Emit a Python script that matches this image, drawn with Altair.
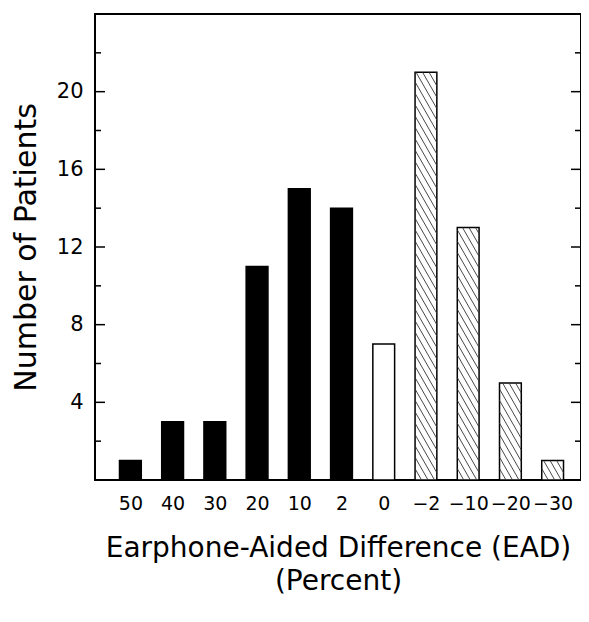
import altair as alt
import pandas as pd

# ---- data ----
labels = ["50", "40", "30", "20", "10", "2", "0", "\u22122", "\u221210", "\u221220", "\u221230"]
counts = [1, 3, 3, 11, 15, 14, 7, 21, 13, 5, 1]
groups = ["solid"] * 6 + ["open"] + ["hatched"] * 4
major_ticks = [4, 8, 12, 16, 20]
minor_ticks = [2, 6, 10, 14, 18, 22]

# ---- layout ----
W, H = 486, 466
X_DOM = [-0.838, 10.672]
Y_DOM = [0, 24]
HALF = 0.258  # half bar width in x-units

idx = list(range(len(labels)))
bars = pd.DataFrame({
    "i": idx,
    "lo": [i - HALF for i in idx],
    "hi": [i + HALF for i in idx],
    "label": labels,
    "count": counts,
    "group": groups,
})

def to_px_x(v):
    return (v - X_DOM[0]) / (X_DOM[1] - X_DOM[0]) * W

def to_px_y(v):
    return H - (v - Y_DOM[0]) / (Y_DOM[1] - Y_DOM[0]) * H

def from_px_x(p):
    return X_DOM[0] + p / W * (X_DOM[1] - X_DOM[0])

def from_px_y(p):
    return Y_DOM[0] + (H - p) / H * (Y_DOM[1] - Y_DOM[0])

# hatch lines (decoration) inside each hatched bar, clipped to the bar
K = 1.75       # pixel slope (down-right)
SPACING = 6.5  # horizontal pixel spacing of hatch lines
rows = []
for i, c, g in zip(idx, counts, groups):
    if g != "hatched":
        continue
    L, R = to_px_x(i - HALF), to_px_x(i + HALF)
    T, B = to_px_y(c), to_px_y(0)
    x0 = L - (B - T) / K - SPACING
    while x0 < R:
        xa = max(L, x0)
        xb = min(R, x0 + (B - T) / K)
        if xb > xa + 0.3:
            ya = T + K * (xa - x0)
            yb = T + K * (xb - x0)
            rows.append({"x": from_px_x(xa), "x2": from_px_x(xb),
                         "y": from_px_y(ya), "y2": from_px_y(yb)})
        x0 += SPACING
hatch = pd.DataFrame(rows)

FONT = "DejaVu Sans"
label_expr = "[" + ",".join("'" + l + "'" for l in labels) + "][datum.value]"

xscale = alt.Scale(domain=X_DOM, nice=False, zero=False)
yscale = alt.Scale(domain=Y_DOM, nice=False)

x_axis = alt.Axis(
    values=idx, labelExpr=label_expr, ticks=False, tickSize=0, domain=False, grid=False,
    labelFont=FONT, labelFontSize=19, labelColor="black", labelPadding=14,
    title=["Earphone-Aided Difference (EAD)", "(Percent)"],
    titleFont=FONT, titleFontSize=28, titleFontWeight="normal", titleColor="black",
    titleLineHeight=33, titleX=W / 2, titleY=76, titleBaseline="alphabetic", titleAlign="center",
    labelOverlap=False, labelFlush=False,
)
y_axis = alt.Axis(
    values=major_ticks, ticks=False, tickSize=0, domain=False, grid=False,
    labelFont=FONT, labelFontSize=21, labelColor="black", labelPadding=12,
    title="Number of Patients", titleFont=FONT, titleFontSize=30, titleFontWeight="normal",
    titleColor="black", titleX=-69, titleY=H / 2, titleAngle=270,
    titleBaseline="middle", titleAlign="center",
)

base = alt.Chart(bars)
bar_layer = base.mark_bar(stroke="black", strokeWidth=1.5).encode(
    x=alt.X("lo:Q", scale=xscale, axis=x_axis),
    x2="hi:Q",
    y=alt.Y("count:Q", scale=yscale, axis=y_axis),
    y2=alt.datum(0),
    fill=alt.Fill("group:N", scale=alt.Scale(domain=["solid", "open", "hatched"],
                                              range=["black", "white", "white"]), legend=None),
)

hatch_layer = alt.Chart(hatch).mark_rule(color="#333333", strokeWidth=0.9).encode(
    x=alt.X("x:Q", scale=xscale), x2="x2:Q",
    y=alt.Y("y:Q", scale=yscale), y2="y2:Q",
)

maj = pd.DataFrame({"v": major_ticks})
mino = pd.DataFrame({"v": minor_ticks})
tick_layers = [
    alt.Chart(maj).mark_rule(color="black", strokeWidth=1.5).encode(
        y=alt.Y("v:Q", scale=yscale), x=alt.value(0), x2=alt.value(10)),
    alt.Chart(maj).mark_rule(color="black", strokeWidth=1.5).encode(
        y=alt.Y("v:Q", scale=yscale), x=alt.value(W - 10), x2=alt.value(W)),
    alt.Chart(mino).mark_rule(color="black", strokeWidth=1.5).encode(
        y=alt.Y("v:Q", scale=yscale), x=alt.value(0), x2=alt.value(6)),
    alt.Chart(mino).mark_rule(color="black", strokeWidth=1.5).encode(
        y=alt.Y("v:Q", scale=yscale), x=alt.value(W - 6), x2=alt.value(W)),
]

chart = alt.layer(bar_layer, hatch_layer, *tick_layers).properties(
    width=W, height=H,
    autosize=alt.AutoSizeParams(type="none"),
    padding={"left": 87, "top": 6, "right": 0, "bottom": 134},
    background="white",
).configure_view(stroke="black", strokeWidth=2)

chart.save("out.html", embed_options={"renderer": "svg", "actions": False})
